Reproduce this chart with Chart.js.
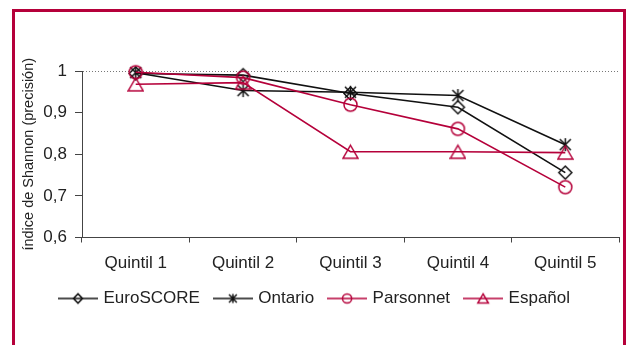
<!DOCTYPE html>
<html>
<head>
<meta charset="utf-8">
<script src="https://cdn.jsdelivr.net/npm/chart.js@4"></script>
<style>
  html, body { margin: 0; padding: 0; background: #fff; overflow: hidden; }
  #wrap { position: relative; width: 631px; height: 345px; }
  #frame {
    position: absolute; left: 12px; top: 9px; width: 608px; height: 400px;
    border: 3px solid #b5003a; pointer-events: none;
  }
</style>
</head>
<body>
<div id="wrap">
  <canvas id="grafico" width="631" height="345"></canvas>
  <div id="frame"></div>
</div>
<script>
const categorias = ['Quintil 1', 'Quintil 2', 'Quintil 3', 'Quintil 4', 'Quintil 5'];
const euroscore = [0.994, 0.990, 0.946, 0.913, 0.756];
const ontario = [0.996, 0.953, 0.949, 0.941, 0.823];
const parsonnet = [0.997, 0.984, 0.919, 0.861, 0.721];
const espanol = [0.968, 0.972, 0.806, 0.806, 0.804];
const yTicks = ['0,6', '0,7', '0,8', '0,9', '1'];

const NEGRO = '#111';
const ROJO = '#b5003a';
const TEXTO = '#222';
const FUENTE = "'Liberation Sans', Arial, sans-serif";

// marcador dibujado en un canvas; con lineLen añade la línea de la leyenda
function marcador(forma, color, h, lineLen) {
    const w = lineLen || Math.ceil(h * 2 + 4);
    const alto = Math.ceil(h * 2 + 4);
    const c = document.createElement('canvas');
    c.width = w;
    c.height = alto;
    const g = c.getContext('2d');
    const cx = w / 2, cy = alto / 2;
    g.strokeStyle = color;
    g.lineWidth = 1.5;
    if (lineLen) {
        g.beginPath();
        g.moveTo(0, cy);
        g.lineTo(w, cy);
        g.stroke();
    }
    g.beginPath();
    if (forma === 'diamante') {
        g.moveTo(cx, cy - h);
        g.lineTo(cx + h, cy);
        g.lineTo(cx, cy + h);
        g.lineTo(cx - h, cy);
        g.closePath();
    } else if (forma === 'asterisco') {
        const d = h * 0.85;
        g.moveTo(cx - d, cy - d); g.lineTo(cx + d, cy + d);
        g.moveTo(cx + d, cy - d); g.lineTo(cx - d, cy + d);
        g.moveTo(cx, cy - h); g.lineTo(cx, cy + h);
    } else if (forma === 'circulo') {
        g.arc(cx, cy, h, 0, Math.PI * 2);
    } else if (forma === 'triangulo') {
        const a = h * 1.15;
        g.moveTo(cx, cy - h);
        g.lineTo(cx + a, cy + h);
        g.lineTo(cx - a, cy + h);
        g.closePath();
    }
    g.stroke();
    return c;
}

const series = [
    { label: 'EuroSCORE', data: euroscore, color: NEGRO, forma: 'diamante' },
    { label: 'Ontario', data: ontario, color: NEGRO, forma: 'asterisco' },
    { label: 'Parsonnet', data: parsonnet, color: ROJO, forma: 'circulo' },
    { label: 'Español', data: espanol, color: ROJO, forma: 'triangulo' }
];

const iconosLeyenda = series.map(s => marcador(s.forma, s.color, 4.6, 40));

const ctx = document.getElementById('grafico').getContext('2d');
new Chart(ctx, {
    type: 'line',
    data: {
        labels: categorias,
        datasets: series.map((s, i) => ({
            label: s.label,
            data: s.data,
            borderColor: s.color,
            backgroundColor: 'transparent',
            borderWidth: 1.6,
            pointStyle: marcador(s.forma, s.color, 6.5),
            pointRadius: 7,
            tension: 0,
            clip: false,
            order: series.length - i
        }))
    },
    options: {
        responsive: false,
        animation: false,
        events: [],
        layout: { padding: { left: 0, right: 0, top: 71, bottom: 28 } },
        plugins: {
            tooltip: { enabled: false },
            legend: {
                position: 'bottom',
                labels: {
                    color: TEXTO,
                    font: { family: FUENTE, size: 17 },
                    usePointStyle: true,
                    pointStyleWidth: 34,
                    padding: 16,
                    sort: (a, b) => a.datasetIndex - b.datasetIndex,
                    generateLabels: chart => {
                        const items = Chart.defaults.plugins.legend.labels.generateLabels(chart);
                        items.forEach(it => { it.pointStyle = iconosLeyenda[it.datasetIndex]; });
                        return items;
                    }
                }
            }
        },
        scales: {
            x: {
                offset: true,
                grid: {
                    offset: true,
                    drawOnChartArea: false,
                    drawTicks: true,
                    tickLength: 5,
                    tickColor: '#444'
                },
                border: { color: '#444', width: 1 },
                ticks: {
                    color: TEXTO,
                    font: { family: FUENTE, size: 17 },
                    padding: 11,
                    maxRotation: 0
                },
                afterFit: s => { s.height = 36.5; }
            },
            y: {
                min: 0.6,
                max: 1,
                ticks: {
                    stepSize: 0.1,
                    color: TEXTO,
                    font: { family: FUENTE, size: 17 },
                    padding: 8,
                    callback: (v, i) => yTicks[i]
                },
                grid: {
                    color: c => (c.tick && c.tick.value > 0.999 ? '#777' : 'rgba(0,0,0,0)'),
                    lineWidth: 1,
                    tickLength: 7,
                    tickColor: '#444',
                    tickBorderDash: []
                },
                // dash de las líneas de rejilla (línea punteada en 1)
                border: { color: '#444', width: 1, dash: [1, 2] },
                title: {
                    display: true,
                    text: 'índice de Shannon (precisión)',
                    color: TEXTO,
                    font: { family: FUENTE, size: 14.5 },
                    padding: { top: 20, bottom: 0 }
                },
                afterFit: s => { s.width = 82; }
            },
            margen: {
                type: 'linear',
                position: 'right',
                display: true,
                grid: { display: false },
                ticks: { display: false },
                border: { display: false },
                afterFit: s => { s.width = 12; }
            }
        }
    }
});
</script>
</body>
</html>
